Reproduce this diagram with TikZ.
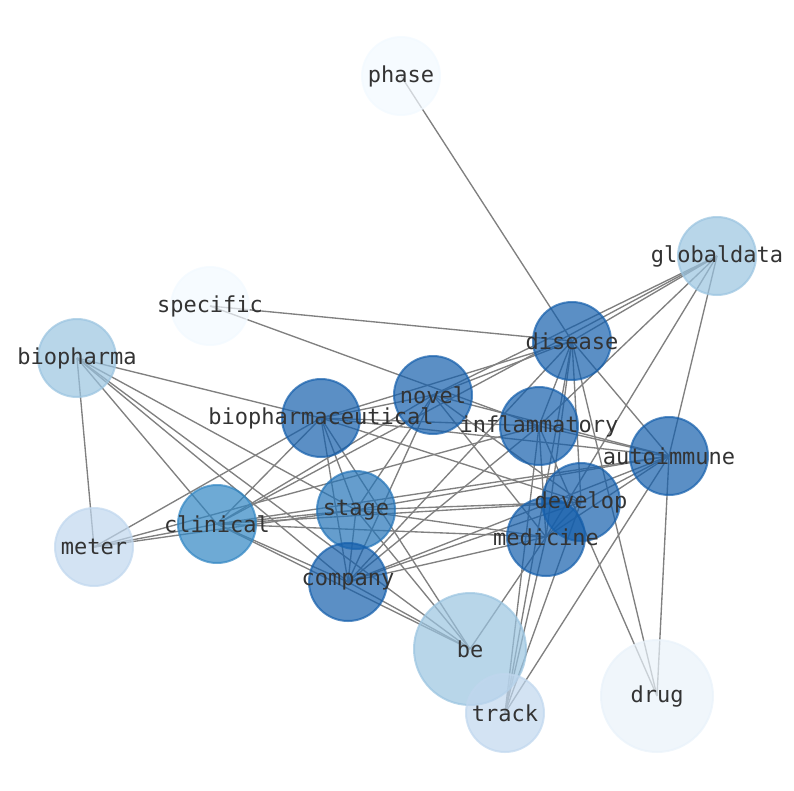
\documentclass[tikz,border=0pt]{standalone}
\usepackage{fontspec}
\newfontfamily\lblfont{DejaVu Sans Mono}
\pgfdeclarelayer{bg}
\pgfsetlayers{bg,main}
\definecolor{cdark}{HTML}{155FAC}
\definecolor{cstage}{HTML}{2474B8}
\definecolor{cclin}{HTML}{3186C3}
\definecolor{cmid}{HTML}{9AC4E0}
\definecolor{clight}{HTML}{C0D7EE}
\definecolor{cdrug}{HTML}{E9F2FA}
\definecolor{cpale}{HTML}{F2F9FF}
\definecolor{edgegray}{HTML}{808080}
\definecolor{txt}{HTML}{333333}
\tikzset{
  disc/.style={circle, minimum size=78pt, inner sep=0pt, fill=#1, draw=#1,
    fill opacity=0.7, draw opacity=0.7, line width=2pt},
  bigdisc/.style={disc=#1, minimum size=112pt},
  lbl/.style={inner sep=0pt, text=txt, font=\lblfont\fontsize{22}{22}\selectfont},
  link/.style={draw=edgegray, line width=1.35pt}
}
\begin{document}
\begin{tikzpicture}[x=1pt,y=-1pt]
\useasboundingbox (0,0) rectangle (794,790);
\node[disc=cpale] (phase) at (401,76) {};
\node[disc=cmid] (globaldata) at (717,256) {};
\node[disc=cpale] (specific) at (210,306) {};
\node[disc=cmid] (biopharma) at (77,358) {};
\node[disc=cdark] (disease) at (572,341) {};
\node[disc=cdark] (novel) at (433,395) {};
\node[disc=cdark] (biopharmaceutical) at (321,418) {};
\node[disc=cdark] (inflammatory) at (539,426) {};
\node[disc=cdark] (autoimmune) at (669,456) {};
\node[disc=cstage] (stage) at (356,510) {};
\node[disc=cclin] (clinical) at (217,524) {};
\node[disc=clight] (meter) at (94,547) {};
\node[disc=cdark] (medicine) at (546,537) {};
\node[disc=cdark] (develop) at (581,502) {};
\node[disc=cdark] (company) at (348,582) {};
\node[bigdisc=cmid] (be) at (470,649) {};
\node[disc=clight] (track) at (505,713) {};
\node[bigdisc=cdrug] (drug) at (657,696) {};
\foreach \n in {phase,globaldata,specific,biopharma,disease,novel,
  biopharmaceutical,inflammatory,autoimmune,stage,clinical,meter,medicine,
  develop,company,be,track,drug}
  \node[lbl] (\n-text) at (\n.center) {\n};
\begin{pgfonlayer}{bg}
\foreach \a/\b in {
 phase/disease, specific/disease, specific/inflammatory,
 globaldata/disease, globaldata/novel, globaldata/clinical,
 globaldata/inflammatory, globaldata/medicine, globaldata/autoimmune,
 biopharma/meter, biopharma/biopharmaceutical, biopharma/stage,
 biopharma/clinical, biopharma/company, biopharma/be,
 disease/biopharmaceutical, disease/inflammatory, disease/autoimmune,
 disease/develop, disease/medicine, disease/company, disease/track,
 disease/drug, disease/novel,
 novel/autoimmune, novel/develop, novel/medicine, novel/stage,
 novel/clinical, novel/company, novel/biopharmaceutical,
 biopharmaceutical/stage, biopharmaceutical/company, biopharmaceutical/be,
 biopharmaceutical/meter, biopharmaceutical/clinical,
 biopharmaceutical/autoimmune, biopharmaceutical/develop,
 biopharmaceutical/inflammatory,
 inflammatory/autoimmune, inflammatory/meter, inflammatory/track,
 inflammatory/drug, inflammatory/company, inflammatory/medicine,
 autoimmune/develop, autoimmune/medicine, autoimmune/stage,
 autoimmune/company, autoimmune/clinical, autoimmune/track, autoimmune/drug,
 develop/stage, develop/clinical, develop/company, develop/medicine,
 develop/track,
 medicine/stage, medicine/clinical, medicine/company, medicine/be,
 medicine/track,
 stage/clinical, stage/company, stage/meter, stage/be,
 clinical/company, clinical/be, clinical/meter, company/be}
 \draw[link] (\a.center) -- (\b.center);
\end{pgfonlayer}
\end{tikzpicture}
\end{document}
